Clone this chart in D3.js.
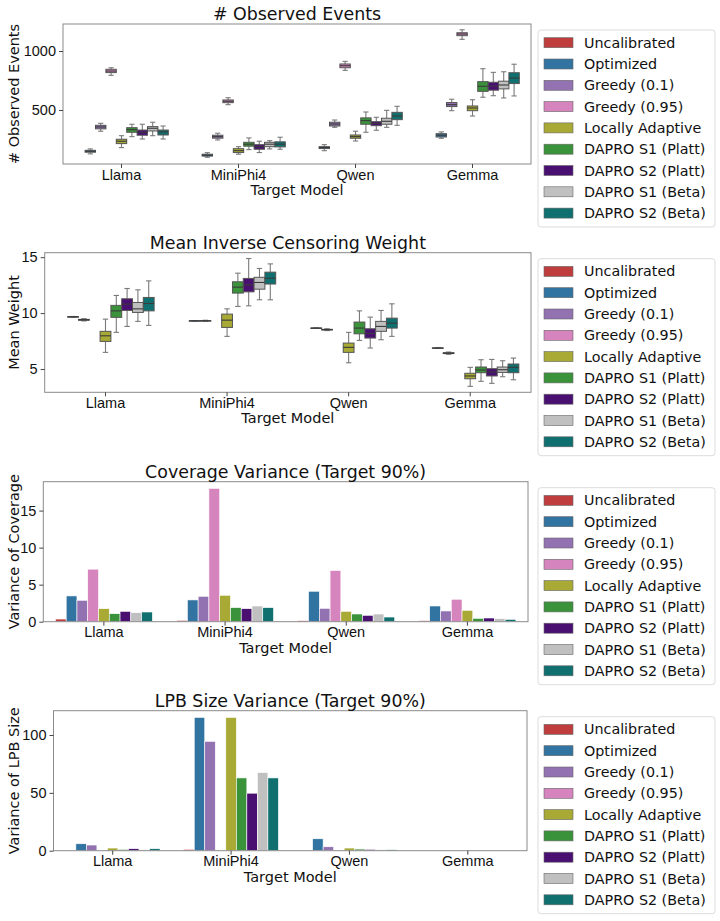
<!DOCTYPE html>
<html>
<head>
<meta charset="utf-8">
<script src="https://cdn.jsdelivr.net/npm/d3@7"></script>
<style>
  body { margin: 0; background: #fff; }
  svg { font-family: "DejaVu Sans", sans-serif; }
  .tick text { font-size: 14.5px; fill: #111; }
  .tick line { stroke: #444; }
</style>
</head>
<body>
<div id="chart"></div>
<script>
const models = ["Llama", "MiniPhi4", "Qwen", "Gemma"];
const methods = ["Uncalibrated", "Optimized", "Greedy (0.1)", "Greedy (0.95)", "Locally Adaptive",
  "DAPRO S1 (Platt)", "DAPRO S2 (Platt)", "DAPRO S1 (Beta)", "DAPRO S2 (Beta)"];
const methodColors = ["#c03d3e", "#3274a1", "#9372b2", "#d684bd", "#a9aa35",
  "#3a923a", "#491072", "#c0c0c0", "#107070"];

// box stats per model: [low whisker, q1, median, q3, high whisker]
const eventsUncalibrated = [null, null, null, null];
const eventsOptimized = [[128, 142, 150, 158, 170], [99, 109, 116, 125, 138], [155, 173, 181, 189, 206], [260, 271, 286, 299, 314]];
const eventsGreedy01 = [[320, 340, 356, 370, 387], [246, 261, 274, 286, 303], [353, 364, 381, 396, 415], [494, 529, 545, 563, 591]];
const eventsGreedy095 = [[794, 817, 830, 845, 858], [545, 562, 574, 585, 604], [836, 858, 875, 890, 912], [1099, 1130, 1144, 1155, 1180]];
const eventsLocal = [[181, 215, 235, 252, 282], [125, 139, 155, 172, 189], [237, 260, 274, 288, 320], [449, 494, 517, 534, 587]];
const eventsS1Platt = [[274, 311, 333, 350, 379], [164, 193, 210, 226, 263], [311, 379, 410, 433, 483], [608, 658, 701, 740, 850]];
const eventsS2Platt = [[254, 286, 311, 330, 379], [139, 167, 189, 206, 235], [328, 367, 387, 401, 438], [621, 668, 703, 735, 819]];
const eventsS1Beta = [[282, 322, 345, 359, 396], [170, 189, 210, 226, 240], [353, 379, 404, 430, 497], [602, 679, 712, 744, 824]];
const eventsS2Beta = [[254, 288, 314, 330, 364], [167, 187, 210, 230, 269], [370, 418, 449, 480, 531], [619, 724, 771, 816, 888]];

const weightUncalibrated = [null, null, null, null];
const weightOptimized = [[9.64, 9.66, 9.67, 9.68, 9.70], [9.29, 9.30, 9.31, 9.32, 9.33], [8.64, 8.65, 8.66, 8.67, 8.68], [6.86, 6.87, 6.88, 6.89, 6.90]];
const weightGreedy01 = [[9.30, 9.36, 9.40, 9.44, 9.50], [9.26, 9.29, 9.31, 9.33, 9.36], [8.44, 8.49, 8.52, 8.55, 8.60], [6.32, 6.38, 6.42, 6.46, 6.52]];
const weightGreedy095 = [null, null, null, null];
const weightLocal = [[6.49, 7.47, 7.97, 8.37, 9.46], [7.92, 8.72, 9.37, 9.91, 10.38], [5.56, 6.49, 6.94, 7.32, 8.28], [3.45, 4.13, 4.38, 4.62, 5.15]];
const weightS1Platt = [[8.28, 9.62, 10.2, 10.69, 11.58], [10.6, 11.79, 12.32, 12.8, 13.57], [7.56, 8.15, 8.66, 9.2, 10.2], [3.9, 4.67, 4.91, 5.18, 5.83]];
const weightS2Platt = [[8.81, 10.24, 10.8, 11.28, 12.2], [10.65, 11.9, 12.53, 13.1, 14.88], [6.88, 7.77, 8.18, 8.6, 9.64], [3.72, 4.38, 4.73, 5.03, 5.86]];
const weightS1Beta = [[9.26, 10.06, 10.38, 10.95, 12.08], [11.19, 12.14, 12.74, 13.2, 13.99], [7.62, 8.37, 8.81, 9.26, 10.24], [4.31, 4.7, 4.94, 5.18, 5.74]];
const weightS2Beta = [[8.9, 10.2, 10.86, 11.4, 12.88], [11.19, 12.6, 13.12, 13.66, 14.4], [7.92, 8.66, 9.1, 9.55, 10.83], [4.04, 4.67, 5.15, 5.45, 5.98]];

// bar values per model
const covUncalibrated = [0.36, 0.18, 0.14, 0.14];
const covOptimized = [3.48, 2.94, 4.11, 2.12];
const covGreedy01 = [2.89, 3.43, 1.81, 1.45];
const covGreedy095 = [7.09, 18.0, 6.91, 3.03];
const covLocal = [1.76, 3.57, 1.40, 1.54];
const covS1Platt = [1.08, 1.90, 1.04, 0.45];
const covS2Platt = [1.40, 1.76, 0.86, 0.50];
const covS1Beta = [1.22, 2.12, 1.04, 0.41];
const covS2Beta = [1.31, 1.90, 0.63, 0.32];

const lpbUncalibrated = [0.3, 1.2, 0.1, 0.1];
const lpbOptimized = [6.0, 115.2, 10.3, 0.2];
const lpbGreedy01 = [4.9, 94.5, 3.4, 0.2];
const lpbGreedy095 = [0, 0, 0, 0];
const lpbLocal = [2.3, 115.2, 2.3, 0.2];
const lpbS1Platt = [1.1, 62.9, 1.4, 0.1];
const lpbS2Platt = [1.7, 49.7, 1.1, 0.1];
const lpbS1Beta = [0.8, 67.5, 0.8, 0.1];
const lpbS2Beta = [1.7, 62.9, 0.8, 0.1];

const eventsTicks = [500, 1000];
const weightTicks = [5, 10, 15];
const covTicks = [0, 5, 10, 15];
const lpbTicks = [0, 50, 100];

const panels = [
  { kind: "box", title: "# Observed Events", ylabel: "# Observed Events",
    series: [eventsUncalibrated, eventsOptimized, eventsGreedy01, eventsGreedy095, eventsLocal, eventsS1Platt, eventsS2Platt, eventsS1Beta, eventsS2Beta],
    domain: [42, 1229], ticks: eventsTicks, rect: { l: 63, t: 24, r: 531, b: 164 } },
  { kind: "box", title: "Mean Inverse Censoring Weight", ylabel: "Mean Weight",
    series: [weightUncalibrated, weightOptimized, weightGreedy01, weightGreedy095, weightLocal, weightS1Platt, weightS2Platt, weightS1Beta, weightS2Beta],
    domain: [2.92, 15.4], ticks: weightTicks, rect: { l: 44.7, t: 252.7, r: 531, b: 392.3 } },
  { kind: "bar", title: "Coverage Variance (Target 90%)", ylabel: "Variance of Coverage",
    series: [covUncalibrated, covOptimized, covGreedy01, covGreedy095, covLocal, covS1Platt, covS2Platt, covS1Beta, covS2Beta],
    domain: [0, 18.9], ticks: covTicks, rect: { l: 43.3, t: 481.7, r: 528, b: 621.7 } },
  { kind: "bar", title: "LPB Size Variance (Target 90%)", ylabel: "Variance of LPB Size",
    series: [lpbUncalibrated, lpbOptimized, lpbGreedy01, lpbGreedy095, lpbLocal, lpbS1Platt, lpbS2Platt, lpbS1Beta, lpbS2Beta],
    domain: [0, 121], ticks: lpbTicks, rect: { l: 53.5, t: 710.7, r: 527, b: 850.7 } }
];

const width = 720, height = 921;

let svg = d3.select("#chart")
  .append("svg")
  .attr("width", width)
  .attr("height", height);

svg.append("rect").attr("width", width).attr("height", height).attr("fill", "#fff");

for (let p of panels) drawPanel(p);

function drawPanel(p) {
  const r = p.rect;
  let g = svg.append("g");

  let x = d3.scaleBand().domain(models).range([r.l, r.r]);
  let hue = d3.scaleBand().domain(methods).range([0, x.bandwidth() * 0.8]); // dodge within a group
  const off = x.bandwidth() * 0.1;
  let y = d3.scaleLinear().domain(p.domain).range([r.b, r.t]);

  let marks = g.append("g");

  if (p.kind === "bar") {
    p.series.forEach((vals, i) => {
      marks.selectAll(null)
        .data(vals.map((v, j) => ({ v, m: models[j] })))
        .join("rect")
        .attr("x", d => x(d.m) + off + hue(methods[i]))
        .attr("width", hue.bandwidth())
        .attr("y", d => y(d.v))
        .attr("height", d => y(0) - y(d.v))
        .attr("fill", methodColors[i])
        .attr("stroke", "#fff")
        .attr("stroke-width", 0.6);
    });
  } else {
    p.series.forEach((vals, i) => {
      let rows = vals.map((s, j) => ({ s, m: models[j] })).filter(d => d.s);
      let bx = marks.selectAll(null).data(rows).join("g")
        .attr("transform", d => `translate(${x(d.m) + off + hue(methods[i])},0)`);
      const w = hue.bandwidth(), cx = w / 2;
      // whiskers
      bx.append("line").attr("x1", cx).attr("x2", cx)
        .attr("y1", d => y(d.s[0])).attr("y2", d => y(d.s[1]))
        .attr("stroke", "#7a7a7a").attr("stroke-width", 1.1);
      bx.append("line").attr("x1", cx).attr("x2", cx)
        .attr("y1", d => y(d.s[3])).attr("y2", d => y(d.s[4]))
        .attr("stroke", "#7a7a7a").attr("stroke-width", 1.1);
      // caps
      for (let k of [0, 4]) {
        bx.append("line").attr("x1", w * 0.25).attr("x2", w * 0.75)
          .attr("y1", d => y(d.s[k])).attr("y2", d => y(d.s[k]))
          .attr("stroke", "#7a7a7a").attr("stroke-width", 1.1);
      }
      bx.append("rect")
        .attr("x", 0).attr("width", w)
        .attr("y", d => y(d.s[3]))
        .attr("height", d => Math.max(0.5, y(d.s[1]) - y(d.s[3])))
        .attr("fill", methodColors[i])
        .attr("stroke", "#555").attr("stroke-width", 1);
      bx.append("line").attr("x1", 0).attr("x2", w)
        .attr("y1", d => y(d.s[2])).attr("y2", d => y(d.s[2]))
        .attr("stroke", "#3a3a3a").attr("stroke-width", 1.1);
    });
  }

  // frame
  g.append("rect")
    .attr("x", r.l).attr("y", r.t)
    .attr("width", r.r - r.l).attr("height", r.b - r.t)
    .attr("fill", "none").attr("stroke", "#8a8a8a").attr("stroke-width", 1);

  let xa = g.append("g")
    .attr("transform", `translate(0,${r.b})`)
    .call(d3.axisBottom(x).tickSize(4).tickPadding(1.5));
  xa.select(".domain").remove();
  xa.selectAll("text").attr("font-family", null).attr("font-size", null);

  let ya = g.append("g")
    .attr("transform", `translate(${r.l},0)`)
    .call(d3.axisLeft(y).tickValues(p.ticks).tickFormat(d3.format("d")).tickSize(4).tickPadding(3));
  ya.select(".domain").remove();
  ya.selectAll("text").attr("font-family", null).attr("font-size", null);

  g.append("text")
    .attr("x", (r.l + r.r) / 2).attr("y", r.t - 10)
    .attr("text-anchor", "middle").attr("dominant-baseline", "central")
    .attr("font-size", 17.4).attr("fill", "#111")
    .text(p.title);

  g.append("text")
    .attr("x", (r.l + r.r) / 2).attr("y", r.b + 26)
    .attr("text-anchor", "middle").attr("dominant-baseline", "central")
    .attr("font-size", 14.5).attr("fill", "#111")
    .text("Target Model");

  g.append("text")
    .attr("transform", `translate(14,${(r.t + r.b) / 2}) rotate(-90)`)
    .attr("text-anchor", "middle").attr("dominant-baseline", "central")
    .attr("font-size", 14.5).attr("fill", "#111")
    .text(p.ylabel);

  drawLegend(r.t + 6);
}

function drawLegend(top) {
  let lg = svg.append("g").attr("transform", `translate(538,${top})`);
  lg.append("rect")
    .attr("width", 177).attr("height", 197)
    .attr("rx", 3)
    .attr("fill", "#fff").attr("stroke", "#dcdcdc");
  let item = lg.selectAll(".item")
    .data(methods)
    .join("g")
    .attr("class", "item")
    .attr("transform", (d, i) => `translate(0,${12.7 + i * 21.3})`);
  item.append("rect")
    .attr("x", 6).attr("y", -5).attr("width", 29).attr("height", 10)
    .attr("fill", (d, i) => methodColors[i])
    .attr("stroke", "#666").attr("stroke-width", 0.6);
  item.append("text")
    .attr("x", 46)
    .attr("dominant-baseline", "central")
    .attr("font-size", 14.3).attr("fill", "#111")
    .text(d => d);
}
</script>
</body>
</html>
